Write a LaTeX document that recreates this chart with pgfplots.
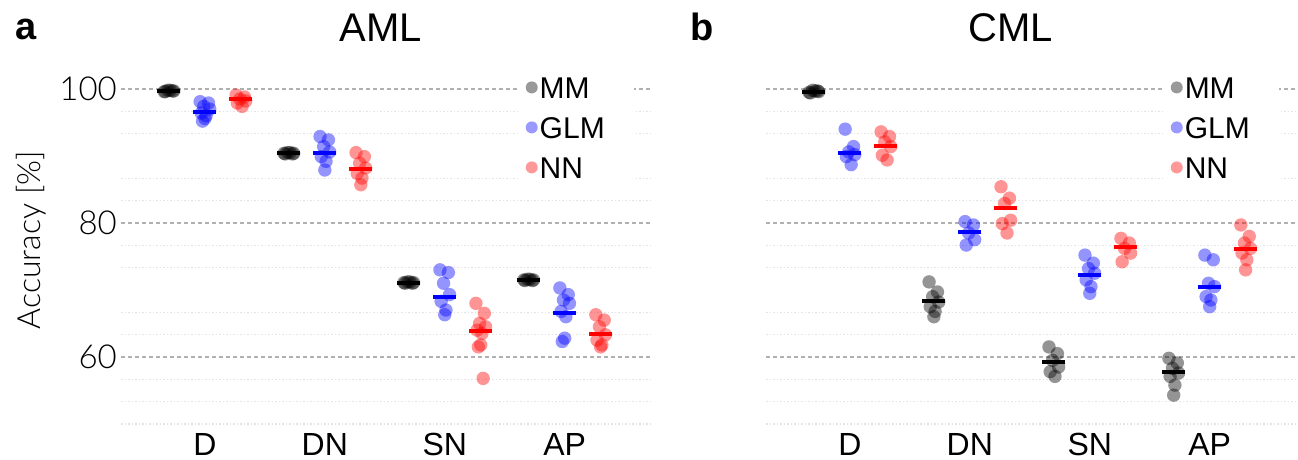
\documentclass[border=0pt]{standalone}
\usepackage{fontspec}
\setmainfont{Liberation Sans}
\newfontfamily\lightfont{Lato}[UprightFont=* Light]
\usepackage{pgfplots}
\pgfplotsset{compat=1.18}

\definecolor{mmleg}{HTML}{999999}
\definecolor{glmleg}{HTML}{9999FF}
\definecolor{nnleg}{HTML}{FF9999}
\definecolor{majgrid}{HTML}{B0B0B0}
\definecolor{mingrid}{HTML}{E4E4E4}

\pgfplotsset{
  panel/.style={
    scale only axis, width=530pt, height=355.1pt,
    xmin=-0.7, xmax=3.72, ymin=48.5, ymax=101.5,
    axis line style={draw=none},
    xtick={0,1,2,3}, xticklabels={D,DN,SN,AP},
    ytick={60,80,100}, yticklabels={60,80,100},
    minor ytick={50,53.333,56.667,63.333,66.667,73.333,76.667,83.333,86.667,93.333,96.667},
    major tick length=0pt, minor tick length=0pt,
    ymajorgrids, yminorgrids,
    major grid style={majgrid, line width=1.2pt, dash pattern=on 4pt off 3pt},
    minor grid style={mingrid, line width=1.2pt, dash pattern=on 1.5pt off 2pt},
    xticklabel style={font=\fontsize{32}{38}\selectfont, anchor=base, yshift=-21pt, inner sep=0pt},
    yticklabel style={font=\lightfont\fontsize{33}{38}\selectfont, anchor=east, inner sep=0pt, xshift=-4pt},
    clip=false,
    legend cell align=left,
    legend style={at={(axis cs:2.607,102.5)}, anchor=north west,
      draw=none, fill=white, inner xsep=8pt, inner ysep=4pt,
      font=\fontsize{30}{36}\selectfont, row sep=18pt, column sep=2pt,
      nodes={inner sep=0pt, text height=22pt, text depth=0pt, text width=86pt, align=left}},
  },
  pts/.style={only marks, mark=*, mark size=6.7pt, color=#1,
    mark options={draw opacity=0, fill=#1, fill opacity=0.42}},
  avg/.style={only marks, mark=-, mark size=11.5pt, color=#1,
    mark options={draw=#1, line width=4pt}},
  legpt/.style={only marks, mark=*, mark size=6pt, color=#1,
    mark options={draw opacity=0, fill=#1}},
}

\begin{document}
\begin{tikzpicture}
\path[use as bounding box] (0,0) rectangle (1298pt,459pt);

% panel a: AML
\begin{axis}[panel, at={(121pt,25pt)}, anchor=south west]
\addlegendimage{legpt=mmleg}\addlegendentry{MM}
\addlegendimage{legpt=glmleg}\addlegendentry{GLM}
\addlegendimage{legpt=nnleg}\addlegendentry{NN}
% MM
\addplot[pts=black, forget plot] table {
-0.34 99.6
-0.27 99.7
-0.31 99.8
-0.26 99.7
-0.33 99.6
-0.29 99.8
0.66 90.4
0.73 90.3
0.69 90.5
0.74 90.4
0.67 90.3
0.71 90.5
1.66 71.1
1.73 71.0
1.69 71.2
1.74 71.1
1.67 71.0
1.71 71.2
2.66 71.5
2.73 71.4
2.69 71.6
2.74 71.5
2.67 71.4
2.71 71.6
};
\addplot[avg=black, forget plot] coordinates {(-0.3,99.7) (0.7,90.4) (1.7,71.1) (2.7,71.5)};
% GLM
\addplot[pts=blue, forget plot] table {
-0.04 98.1
0.03 97.9
-0.01 97.4
0.04 97.0
-0.03 96.4
0.01 96.0
0.00 95.6
-0.02 95.2
0.96 92.9
1.03 92.4
0.99 91.4
1.04 90.6
0.97 89.9
1.01 89.2
1.00 87.9
1.96 73.0
2.03 72.6
1.99 71.0
2.04 69.3
1.97 68.3
2.01 67.0
2.00 66.3
2.96 70.3
3.03 69.3
2.99 68.5
3.04 68.0
2.97 66.8
3.01 66.0
3.00 62.8
2.98 62.3
};
\addplot[avg=blue, forget plot] coordinates {(0,96.5) (1,90.4) (2,69.0) (3,66.6)};
% NN
\addplot[pts=red, forget plot] table {
0.26 99.1
0.33 98.8
0.29 98.5
0.34 98.2
0.27 97.9
0.31 97.4
1.26 90.5
1.33 89.9
1.29 88.9
1.34 88.2
1.27 87.4
1.31 86.7
1.30 85.7
2.26 68.0
2.33 66.5
2.29 65.0
2.34 64.5
2.27 64.0
2.31 63.5
2.30 61.8
2.28 61.5
2.32 56.8
3.26 66.3
3.33 65.5
3.29 64.5
3.34 63.3
3.27 62.5
3.31 61.8
3.30 61.5
};
\addplot[avg=red, forget plot] coordinates {(0.3,98.5) (1.3,88.0) (2.3,63.8) (3.3,63.4)};
\end{axis}

% panel b: CML
\begin{axis}[panel, at={(766pt,25pt)}, anchor=south west, yticklabels={,,}]
\addlegendimage{legpt=mmleg}\addlegendentry{MM}
\addlegendimage{legpt=glmleg}\addlegendentry{GLM}
\addlegendimage{legpt=nnleg}\addlegendentry{NN}
% MM
\addplot[pts=black, forget plot] table {
-0.34 99.5
-0.27 99.7
-0.31 99.8
-0.26 99.6
-0.33 99.4
-0.29 99.7
0.66 71.2
0.73 69.7
0.69 69.0
0.74 68.2
0.67 67.5
0.71 66.8
0.70 66.0
1.66 61.5
1.73 60.5
1.69 59.5
1.74 58.5
1.67 57.8
1.71 57.1
2.66 59.8
2.73 59.1
2.69 58.3
2.74 57.6
2.67 57.1
2.71 55.8
2.70 54.3
};
\addplot[avg=black, forget plot] coordinates {(-0.3,99.6) (0.7,68.4) (1.7,59.3) (2.7,57.7)};
% GLM
\addplot[pts=blue, forget plot] table {
-0.04 94.0
0.03 91.4
-0.01 90.6
0.04 90.2
-0.03 89.9
0.01 88.7
0.96 80.2
1.03 79.7
0.99 78.5
1.04 77.5
0.97 76.7
1.96 75.2
2.03 74.0
1.99 73.2
2.04 72.5
1.97 71.5
2.01 70.5
2.00 69.5
2.96 75.2
3.03 74.5
2.99 71.0
3.04 70.5
2.97 69.0
3.01 68.5
3.00 67.5
};
\addplot[avg=blue, forget plot] coordinates {(0,90.5) (1,78.6) (2,72.2) (3,70.5)};
% NN
\addplot[pts=red, forget plot] table {
0.26 93.6
0.33 92.9
0.29 92.1
0.34 91.4
0.27 90.1
0.31 89.4
1.26 85.4
1.33 83.7
1.29 82.9
1.34 80.4
1.27 79.9
1.31 78.5
2.26 77.7
2.33 77.0
2.29 76.2
2.34 75.5
2.27 74.2
3.26 79.7
3.33 78.0
3.29 77.0
3.34 76.2
3.27 75.5
3.31 74.5
3.30 73.0
};
\addplot[avg=red, forget plot] coordinates {(0.3,91.5) (1.3,82.2) (2.3,76.4) (3.3,76.1)};
\end{axis}

\node[font=\fontsize{40}{48}\selectfont] at (381pt,431.5pt) {AML};
\node[font=\fontsize{40}{48}\selectfont] at (1011pt,431.5pt) {CML};
\node[font=\bfseries\fontsize{38}{44}\selectfont, anchor=base west, inner sep=0pt] at (15.5pt,419pt) {a};
\node[font=\bfseries\fontsize{38}{44}\selectfont, anchor=base west, inner sep=0pt] at (690.5pt,418pt) {b};
\node[font=\lightfont\fontsize{32}{36}\selectfont, rotate=90] at (31pt,219pt) {Accuracy [\%]};
\end{tikzpicture}
\end{document}
